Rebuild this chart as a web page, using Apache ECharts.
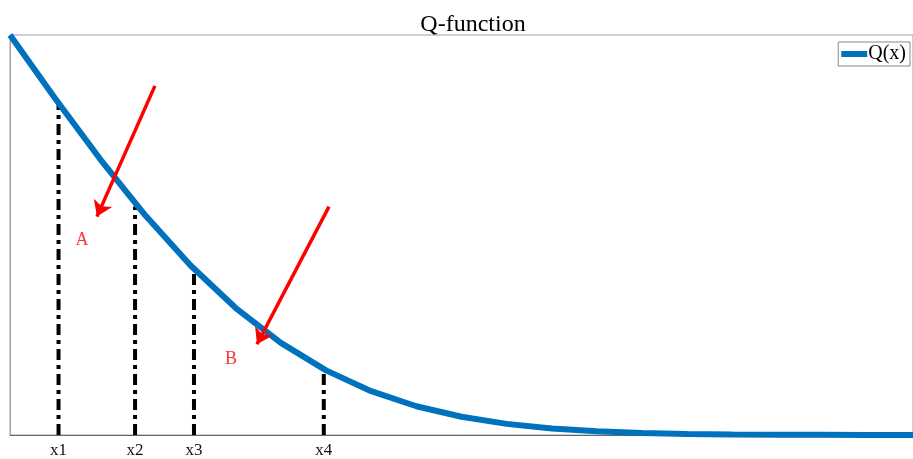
<!DOCTYPE html>
<html><head><meta charset="utf-8">
<script src="https://cdn.jsdelivr.net/npm/echarts@6/dist/echarts.min.js"></script>
<style>html,body{margin:0;padding:0;background:#fff}#c{width:913px;height:459px}</style>
</head><body><div id="c"></div>
<script>
// Q-function samples
const xValues = [0,0.2,0.4,0.6,0.8,1.0,1.2,1.4,1.6,1.8,2.0,2.2,2.4,2.6,2.8,3.0,3.2,3.4,3.6,3.8,4.0];
const qValues = [0.5,0.4207,0.3446,0.2743,0.2119,0.1587,0.1151,0.0808,0.0548,0.0359,0.0228,0.0139,0.0082,0.0047,0.0026,0.0013,0.0007,0.0003,0.0002,0.0001,0.00003];
// vertical marker lines
const markerNames = ['x1','x2','x3','x4'];
const markerX = [0.215,0.554,0.815,1.39];
const markerTop = [0.413,0.2855,0.206,0.0815];
// arrows [x0,y0,x1,y1]
const arrowA = [0.642,0.4364,0.385,0.273];
const arrowB = [1.413,0.2855,1.094,0.1135];
const labelNames = ['A','B'];
const labelPos = [[0.319,0.243],[0.979,0.0948]];

const serif = '"Liberation Serif","DejaVu Serif",serif';
const series = [];
series.push({
  name:'Q(x)', type:'line', data:xValues.map((x,i)=>[x,qValues[i]]),
  showSymbol:false, lineStyle:{color:'#0072BD',width:6}, itemStyle:{color:'#0072BD'}, z:3, silent:true
});
markerX.forEach((x,i)=>{
  series.push({type:'line', data:[[x,0],[x,markerTop[i]]], showSymbol:false, silent:true,
    lineStyle:{color:'#000',width:4,type:[11,5,4,5]}, z:2});
});
series.push({type:'lines', coordinateSystem:'cartesian2d', polyline:false, silent:true,
  symbol:['none','arrow'], symbolSize:[0,15],
  lineStyle:{color:'#ff0000',width:3.5,opacity:1,curveness:0},
  data:[{coords:[[arrowA[0],arrowA[1]],[arrowA[2],arrowA[3]]]},{coords:[[arrowB[0],arrowB[1]],[arrowB[2],arrowB[3]]]}], z:4});
series.push({type:'scatter', symbolSize:0, silent:true,
  data:labelPos.map((p,i)=>({value:p,label:{show:true,formatter:labelNames[i],position:'inside',color:'#ff0000',fontFamily:serif,fontSize:18}}))});

const chart = echarts.init(document.getElementById('c'));
chart.setOption({
  animation:false,
  backgroundColor:'#fff',
  title:{text:'Q-function',left:468,textAlign:'center',top:8,textStyle:{fontFamily:serif,fontSize:24,fontWeight:'normal',color:'#000'}},
  legend:{data:['Q(x)'],right:3,top:42,icon:'rect',itemWidth:26,itemHeight:6,itemGap:2,
    borderColor:'#888',borderWidth:1,padding:[2,4,2,3],backgroundColor:'#fff',
    textStyle:{fontFamily:serif,fontSize:20,color:'#000',padding:[0,0,0,-4]}},
  grid:{left:10,right:-2,top:35,bottom:23,show:true,borderColor:'#a0a0a0',borderWidth:1,backgroundColor:'transparent'},
  xAxis:{type:'value',min:0,max:4,splitLine:{show:false},
    axisLine:{show:true,lineStyle:{color:'#666',width:1}},axisTick:{show:false},
    axisLabel:{customValues:markerX,formatter:(v)=>{const i=markerX.findIndex(m=>Math.abs(m-v)<1e-6);return i>=0?markerNames[i]:'';},
      fontFamily:serif,fontSize:17,color:'#111',margin:7}},
  yAxis:{type:'value',min:0,max:0.5,splitLine:{show:false},axisLabel:{show:false},axisTick:{show:false},
    axisLine:{show:true,lineStyle:{color:'#a0a0a0'}}},
  series
});
</script></body></html>
